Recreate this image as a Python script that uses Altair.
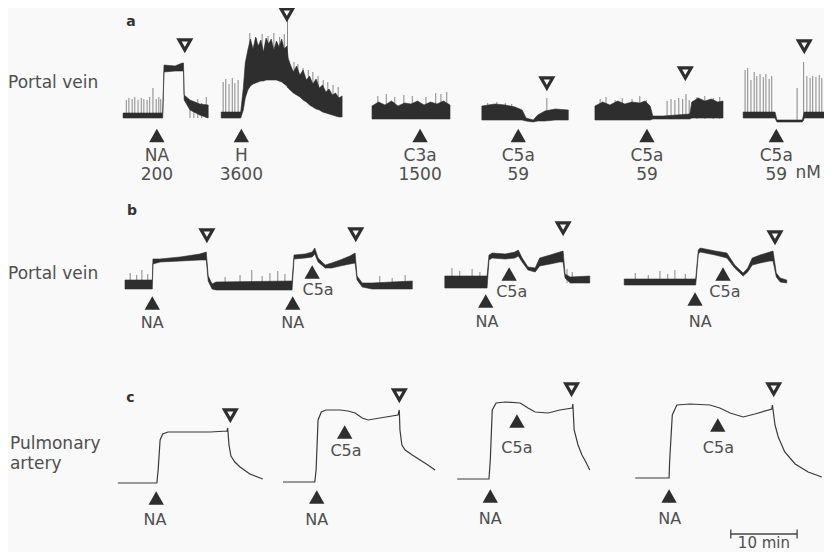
import altair as alt
import pandas as pd

# ---------------- data (time in min, tension in arbitrary units) ----------------
# Row a: portal vein, dense spontaneous activity drawn as envelope band + spikes
A_SEG = [1]*11 + [2]*38 + [3]*13 + [4]*11 + [5]*18 + [6]*6
A_T = [17.7, 23.7, 23.8, 24.0, 25.7, 26.8, 27.0, 27.1, 28.0, 29.5, 30.8,
       32.8, 35.8, 36.2, 36.5, 36.9, 37.3, 37.7, 38.1, 38.5, 38.9,
       39.3, 39.7, 40.1, 40.5, 40.9, 41.3, 41.7, 42.1, 42.5, 42.9,
       43.1, 43.4, 43.9, 44.4, 44.9, 45.4, 45.9, 46.4, 46.9, 47.4,
       47.9, 48.4, 48.9, 49.4, 49.9, 50.4, 50.9, 51.4,
       56.0, 57.0, 58.0, 59.0, 60.0, 61.0, 62.0, 63.0, 64.0, 65.0, 66.0, 67.0, 68.0,
       72.9, 74.9, 76.5, 78.0, 79.1, 79.7, 80.8, 81.5, 82.6, 84.2, 86.2,
       90.3, 91.5, 92.6, 93.8, 94.9, 96.0, 97.2, 98.0, 98.8, 99.2, 100.8, 104.9, 105.2,
       106.2, 107.2, 108.2, 109.2, 110.0,
       113.1, 118.0, 118.3, 122.2, 122.5, 126.8]
A_LO = [0, 0, 0, 4.6, 4.7, 4.7, 4.7, 1.8, 0.8, 0.3, 0,
        0, 0, 0.8, 2.0, 2.8, 3.2, 3.4, 3.5, 3.6, 3.7,
        3.7, 3.8, 3.8, 3.8, 3.8, 3.8, 3.7, 3.6, 3.4, 3.2,
        3.0, 2.8, 2.5, 2.3, 2.1, 1.8, 1.6, 1.3, 1.1, 0.9,
        0.8, 0.6, 0.5, 0.4, 0.3, 0.2, 0.1, 0.1,
        -0.1, -0.1, -0.1, -0.1, -0.1, -0.1, -0.1, -0.1, -0.1, -0.1, -0.1, -0.1, -0.1,
        -0.2, -0.2, -0.2, -0.2, -0.2, -0.3, -0.4, -0.3, -0.3, -0.2, -0.2,
        -0.2, -0.2, -0.2, -0.2, -0.2, -0.2, -0.2, -0.2, -0.2, -0.1, -0.1, -0.1, 0,
        0, 0, 0, 0, 0,
        0, 0, -0.4, -0.4, 0, 0]
A_HI = [0.5, 0.5, 0.5, 5.3, 5.2, 5.5, 5.5, 2.3, 1.8, 1.4, 1.3,
        0.6, 0.6, 3.0, 5.5, 6.8, 7.9, 6.9, 8.1, 7.2, 7.8,
        6.6, 8.0, 7.4, 7.9, 6.8, 7.7, 7.1, 7.9, 6.9, 7.2,
        6.0, 5.4, 4.6, 5.2, 4.3, 4.8, 3.8, 4.2, 3.4, 3.9,
        3.0, 3.3, 2.6, 2.9, 2.3, 2.5, 2.0, 2.2,
        1.2, 1.6, 1.3, 1.7, 1.2, 1.5, 1.4, 1.7, 1.3, 1.6, 1.4, 1.7, 1.3,
        1.2, 1.4, 1.3, 1.1, 0.8, 0.0, -0.2, 0.3, 0.7, 0.9, 0.8,
        1.2, 1.6, 1.3, 1.7, 1.4, 1.6, 1.5, 1.7, 1.2, 0.2, 0.2, 0.4, 1.6,
        2.0, 1.7, 1.9, 1.6, 1.7,
        0.6, 0.6, -0.2, -0.2, 0.6, 0.6]
A_SPK_T = [18.2, 18.6, 19.1, 19.5, 20.0, 20.5, 20.9, 21.4, 21.8, 22.3, 22.8, 23.2, 23.5,
           28.0, 28.6, 29.2, 29.8, 30.5,
           33.1, 33.5, 34.0, 34.5, 34.9, 35.4,
           37.2, 38.2, 39.1, 40.0, 40.9, 41.8, 42.5, 43.0,
           44.0, 44.6, 45.4, 46.2, 46.9, 47.7, 48.5, 49.2, 50.0, 50.8,
           56.9, 58.2, 59.5, 60.9, 62.2, 64.3, 65.8, 66.6, 67.5,
           73.8, 75.2, 76.5, 77.5, 82.9,
           91.1, 92.0, 93.4, 94.5, 96.0, 97.2, 98.2, 101.4, 102.0, 102.6, 103.2, 103.8,
           104.3, 104.8, 106.0, 107.2, 108.5, 109.5,
           113.4, 113.8, 114.3, 114.8, 115.2, 115.7, 116.2, 116.6, 117.1, 117.5,
           121.4, 122.4, 122.9, 123.4, 123.8, 124.3, 124.8, 125.2, 125.7]
A_SPK_BASE = [0]*13 + [0]*5 + [0]*6 + [4]*7 + [3] + \
             [2.6, 2.4, 2.0, 1.6, 1.3, 1.0, 0.8, 0.6, 0.4, 0.2] + [0]*9 + \
             [0, 0, 0, 0, -0.2] + [-0.1]*18 + [0]*10 + [-0.3, -0.3] + [0]*7
A_SPK_TOP = [1.8, 2.0, 1.9, 2.1, 1.8, 2.0, 1.9, 1.8, 2.1, 3.0, 1.9, 2.1, 1.9,
             1.7, 1.4, 1.9, 1.5, 2.1,
             3.6, 3.9, 3.4, 4.0, 3.5, 3.8,
             8.5, 8.0, 8.4, 8.2, 8.5, 8.1, 8.4, 10.0,
             5.6, 5.4, 5.0, 4.8, 4.6, 4.2, 3.8, 3.6, 3.3, 3.1,
             2.2, 2.4, 2.1, 2.3, 2.2, 2.1, 2.5, 2.4, 2.6,
             1.5, 1.6, 1.5, 1.4, 2.0,
             1.9, 2.1, 1.8, 2.0, 1.9, 2.2, 1.8, 1.7, 1.9, 1.8, 2.0, 1.9,
             2.4, 1.8, 2.1, 2.2, 2.0, 2.1,
             4.8, 5.0, 3.8, 4.6, 4.2, 4.4, 4.1, 4.4, 3.9, 4.2,
             3.0, 5.6, 4.2, 4.0, 4.2, 4.1, 4.3, 4.0, 4.2]

# Row b: portal vein, NA then C5a
B_SEG = [1]*25 + [2]*17 + [3]*16
B_T = [18.0, 22.2, 22.3, 23.4, 26.5, 29.5, 30.5, 30.8, 31.4, 32.0, 43.7, 44.0, 45.7,
       46.8, 47.2, 47.7, 48.8, 49.8, 51.1, 52.6, 53.4, 53.7, 54.5, 56.0, 62.2,
       67.2, 73.7, 74.0, 74.5, 76.5, 78.0, 78.5, 79.1, 80.0, 81.1, 81.8, 83.4, 84.9,
       85.4, 85.7, 86.5, 89.5,
       94.8, 105.8, 106.2, 106.5, 108.8, 110.6, 111.8, 113.1, 113.8, 114.5, 115.7,
       117.2, 117.7, 118.2, 118.8, 119.8]
B_LO = [0, 0, 2.5, 2.7, 2.8, 2.9, 2.9, 0.8, 0, -0.1, -0.1, 3.0, 3.1,
        3.2, 3.5, 2.7, 2.1, 2.1, 2.3, 2.5, 2.6, 0.9, 0.2, 0, 0,
        0.1, 0.1, 2.9, 3.1, 3.0, 3.1, 3.3, 2.7, 1.9, 1.7, 2.3, 2.5, 2.7, 2.7, 1.1, 0.6, 0.6,
        0.4, 0.4, 3.5, 3.7, 3.4, 3.1, 2.1, 1.3, 1.7, 2.4, 2.6, 2.8, 2.8, 1.2, 0.7, 0.6]
B_HI = [0.9, 0.9, 3.0, 3.0, 3.2, 3.5, 3.7, 1.3, 0.5, 0.7, 0.8, 3.4, 3.5,
        3.7, 4.1, 3.1, 2.4, 2.6, 2.9, 3.3, 3.6, 1.3, 0.6, 0.6, 0.8,
        1.3, 1.3, 3.4, 3.6, 3.5, 3.7, 3.9, 3.1, 2.2, 2.1, 3.1, 3.4, 3.7, 3.8, 1.5, 1.2, 1.3,
        1.0, 1.0, 3.9, 4.1, 3.8, 3.6, 2.4, 1.6, 2.1, 3.1, 3.4, 3.7, 3.8, 1.6, 1.1, 0.9]
B_SPK_T = [18.8, 19.8, 20.6, 21.5, 33.4, 35.7, 37.5, 39.1, 40.3, 41.5, 42.6, 57.2, 59.1, 61.1,
           68.3, 69.5, 71.4, 72.6, 86.0, 86.8, 96.5, 98.5, 100.3, 101.5, 102.6, 104.2]
B_SPK_BASE = [0]*14 + [0.1]*4 + [0.6]*2 + [0.4]*6
B_SPK_TOP = [1.6, 1.4, 1.9, 1.5, 1.2, 1.4, 1.9, 1.3, 1.6, 1.8, 1.5, 1.3, 1.1, 1.4,
             2.1, 1.8, 2.0, 1.7, 2.0, 1.7, 1.6, 1.4, 1.8, 1.5, 1.9, 1.5]

# Row c: pulmonary artery, smooth tension traces
C_SEG = [1]*16 + [2]*21 + [3]*18 + [4]*19
C_T = [16.9, 22.9, 23.1, 23.4, 23.8, 24.6, 28.0, 31.1, 33.7, 33.8, 34.0, 34.3, 34.9, 35.7, 37.2, 39.2,
       42.3, 47.2, 47.4, 47.7, 48.2, 48.9, 51.1, 52.3, 53.4, 54.5, 55.4, 57.2, 60.0, 60.2, 60.3,
       60.6, 61.1, 62.2, 63.4, 64.6, 65.7,
       69.1, 74.0, 74.2, 74.5, 75.1, 76.5, 78.8, 80.0, 81.1, 83.1, 84.9, 86.8, 86.9, 87.1, 87.7,
       88.3, 88.9, 89.5,
       96.5, 101.7, 101.8, 102.2, 102.9, 104.9, 108.0, 109.5, 111.1, 113.1, 114.9, 117.5, 117.6,
       118.0, 118.5, 119.5, 121.1, 123.1, 125.2]
C_V = [0, 0, 1.3, 4.3, 4.9, 5.1, 5.1, 5.1, 5.2, 5.5, 3.8, 2.7, 2.1, 1.6, 0.9, 0.4,
       0.1, 0.1, 1.3, 6.3, 7.1, 7.3, 7.3, 7.2, 7.0, 6.5, 6.3, 6.5, 6.8, 7.3, 5.3,
       3.8, 3.3, 2.8, 2.3, 1.8, 1.3,
       0.4, 0.4, 2.3, 7.3, 8.0, 8.1, 8.0, 7.5, 7.1, 7.0, 7.3, 7.5, 7.9, 5.3, 3.8,
       2.8, 2.1, 1.3,
       0.5, 0.5, 2.3, 6.8, 7.8, 7.9, 7.8, 7.5, 7.0, 6.6, 6.9, 7.4, 7.8,
       5.8, 4.6, 3.1, 1.9, 1.1, 0.6]

# Drug additions (filled triangles) and washouts (open triangles)
ADD_ROW = ["a"]*6 + ["b"]*7 + ["c"]*7
ADD_T = [22.9, 35.9, 63.4, 78.5, 98.3, 118.2,
         22.2, 43.8, 46.8, 73.5, 77.1, 105.7, 110.0,
         22.8, 47.5, 74.2, 101.7, 51.8, 78.3, 109.2]
ADD_V = [-1.75]*6 + [-1.4, -1.4, 1.7, -1.2, 1.5, -1.0, 1.5] + [-1.5, -1.4, -1.3, -1.3, 5.1, 6.2, 5.8]
WASH_ROW = ["a"]*5 + ["b"]*4 + ["c"]*4
WASH_T = [27.2, 42.9, 82.9, 104.2, 122.5, 30.6, 53.5, 85.4, 118.0, 34.2, 60.2, 86.7, 117.8]
WASH_V = [7.3, 10.4, 3.5, 4.5, 7.2, 5.4, 5.5, 6.1, 5.2, 6.8, 8.8, 9.4, 9.4]

# Drug labels
LAB_ROW = ["a"]*13 + ["b"]*7 + ["c"]*7
LAB_T = [22.9, 22.9, 35.9, 35.9, 63.4, 63.4, 78.5, 78.5, 98.3, 98.3, 118.2, 118.2, 123.1,
         22.2, 43.8, 47.7, 73.7, 77.5, 106.5, 110.3,
         22.6, 47.5, 74.2, 101.8, 52.0, 78.3, 109.3]
LAB_V = [-4.3, -6.15, -4.3, -6.15, -4.3, -6.15, -4.3, -6.15, -4.3, -6.15, -4.3, -6.15, -6.0,
         -3.85, -3.85, -0.6, -3.8, -0.8, -3.8, -0.8,
         -4.2, -4.2, -4.1, -4.1, 2.7, 3.0, 3.0]
LAB_TEXT = ["NA", "200", "H", "3600", "C3a", "1500", "C5a", "59", "C5a", "59", "C5a", "59", "nM",
            "NA", "NA", "C5a", "NA", "C5a", "NA", "C5a",
            "NA", "NA", "NA", "NA", "C5a", "C5a", "C5a"]

# Tissue labels and panel letters
TISSUE_ROW = ["a", "b", "c", "c"]
TISSUE_T = [0.0, 0.0, 0.3, 0.3]
TISSUE_V = [3.0, 1.0, 3.4, 1.4]
TISSUE_TEXT = ["Portal vein", "Portal vein", "Pulmonary", "artery"]
PANEL_ROW = ["a", "b", "c"]
PANEL_T = [18.2, 18.3, 18.2]
PANEL_V = [9.2, 7.4, 8.1]
PANEL_TEXT = ["a", "b", "c"]

# Time calibration bar (10 min)
BAR_T = [111.2, 121.4]
BAR_V = -5.1

# ---------------- layout ----------------
ROW_ZERO = {"a": 110, "b": 281, "c": 475}   # vertical placement of each record's zero
GAIN = 10
W, H = 816, 544
T_MAX = W / 6.5


def lay(row, v):
    return ROW_ZERO[row] - GAIN * v


band = pd.DataFrame(
    [{"seg": f"a{s}", "t": t, "ylo": lay("a", lo), "yhi": lay("a", hi)} for s, t, lo, hi in zip(A_SEG, A_T, A_LO, A_HI)]
    + [{"seg": f"b{s}", "t": t, "ylo": lay("b", lo), "yhi": lay("b", hi)} for s, t, lo, hi in zip(B_SEG, B_T, B_LO, B_HI)]
)
spikes = pd.DataFrame(
    [{"t": t, "yb": lay("a", b), "yt": lay("a", tp)} for t, b, tp in zip(A_SPK_T, A_SPK_BASE, A_SPK_TOP)]
    + [{"t": t, "yb": lay("b", b), "yt": lay("b", tp)} for t, b, tp in zip(B_SPK_T, B_SPK_BASE, B_SPK_TOP)]
)
lines = pd.DataFrame([{"seg": s, "i": i, "t": t, "y": lay("c", v)} for i, (s, t, v) in enumerate(zip(C_SEG, C_T, C_V))])
adds = pd.DataFrame([{"t": t, "y": lay(r, v)} for r, t, v in zip(ADD_ROW, ADD_T, ADD_V)])
wash = pd.DataFrame([{"t": t, "y": lay(r, v)} for r, t, v in zip(WASH_ROW, WASH_T, WASH_V)])
labs = pd.DataFrame([{"t": t, "y": lay(r, v), "txt": s, "size": 17 if r == "a" else 16}
                     for r, t, v, s in zip(LAB_ROW, LAB_T, LAB_V, LAB_TEXT)])
labs_a = labs[labs["size"] == 17]
labs_bc = labs[labs["size"] == 16]
tissue = pd.DataFrame([{"t": t, "y": lay(r, v), "txt": s} for r, t, v, s in zip(TISSUE_ROW, TISSUE_T, TISSUE_V, TISSUE_TEXT)])
panel = pd.DataFrame([{"t": t, "y": lay(r, v), "txt": s} for r, t, v, s in zip(PANEL_ROW, PANEL_T, PANEL_V, PANEL_TEXT)])
bar = pd.DataFrame([{"t": BAR_T[0], "t2": BAR_T[1], "y": lay("c", BAR_V)}])
bar_ticks = pd.DataFrame([{"t": t, "y": lay("c", BAR_V + 0.45), "y2": lay("c", BAR_V - 0.45)} for t in BAR_T])
bar_lab = pd.DataFrame([{"t": sum(BAR_T) / 2, "y": lay("c", -6.45), "txt": "10 min"}])

xs = alt.Scale(domain=[0, T_MAX], nice=False, zero=False)
ys = alt.Scale(domain=[0, H], nice=False, zero=False, reverse=True)
X = alt.X("t:Q", scale=xs, axis=None)
FONT = "DejaVu Sans"
INK = "#2e2e2e"
TXT = "#4f4f4f"
BG = "#f9f9f9"

spike_layer = alt.Chart(spikes).mark_rule(color="#7a7a7a", strokeWidth=0.9).encode(
    x=X, y=alt.Y("yb:Q", scale=ys, axis=None), y2="yt:Q")
band_layer = alt.Chart(band).mark_area(color=INK, stroke=INK, strokeWidth=0.6).encode(
    x=X, y=alt.Y("ylo:Q", scale=ys, axis=None), y2="yhi:Q", detail="seg:N")
line_layer = alt.Chart(lines).mark_line(color="#3a3a3a", strokeWidth=1.2).encode(
    x=X, y=alt.Y("y:Q", scale=ys, axis=None), detail="seg:N", order="i:Q")
add_layer = alt.Chart(adds).mark_point(shape="triangle-up", filled=True, size=235, color=INK, opacity=1).encode(
    x=X, y=alt.Y("y:Q", scale=ys, axis=None))
wash_layer = alt.Chart(wash).mark_point(shape="triangle-down", filled=True, size=135, fill=BG, stroke=INK,
                                        strokeWidth=3.2, strokeJoin="miter", opacity=1).encode(
    x=X, y=alt.Y("y:Q", scale=ys, axis=None))
lab_a_layer = alt.Chart(labs_a).mark_text(font=FONT, fontSize=17, color=TXT, align="center", baseline="alphabetic").encode(
    x=X, y=alt.Y("y:Q", scale=ys, axis=None), text="txt:N")
lab_bc_layer = alt.Chart(labs_bc).mark_text(font=FONT, fontSize=16, color=TXT, align="center", baseline="alphabetic").encode(
    x=X, y=alt.Y("y:Q", scale=ys, axis=None), text="txt:N")
tissue_layer = alt.Chart(tissue).mark_text(font=FONT, fontSize=17, color=TXT, align="left", baseline="alphabetic").encode(
    x=X, y=alt.Y("y:Q", scale=ys, axis=None), text="txt:N")
panel_layer = alt.Chart(panel).mark_text(font=FONT, fontSize=14, fontWeight="bold", color="#333333", align="left",
                                         baseline="alphabetic").encode(
    x=X, y=alt.Y("y:Q", scale=ys, axis=None), text="txt:N")
bar_layer = alt.Chart(bar).mark_rule(color="#444444", strokeWidth=1.3).encode(
    x=X, x2="t2:Q", y=alt.Y("y:Q", scale=ys, axis=None))
bar_tick_layer = alt.Chart(bar_ticks).mark_rule(color="#444444", strokeWidth=1.3).encode(
    x=X, y=alt.Y("y:Q", scale=ys, axis=None), y2="y2:Q")
bar_lab_layer = alt.Chart(bar_lab).mark_text(font=FONT, fontSize=15, color=TXT, align="center", baseline="alphabetic").encode(
    x=X, y=alt.Y("y:Q", scale=ys, axis=None), text="txt:N")

chart = alt.layer(
    spike_layer, band_layer, line_layer, add_layer, wash_layer,
    lab_a_layer, lab_bc_layer, tissue_layer, panel_layer,
    bar_layer, bar_tick_layer, bar_lab_layer,
).properties(
    width=W, height=H, padding=0, autosize=alt.AutoSizeParams(type="none"), background=BG
).configure_view(strokeWidth=0)

chart.save("out.html", embed_options={"renderer": "svg", "actions": False})
